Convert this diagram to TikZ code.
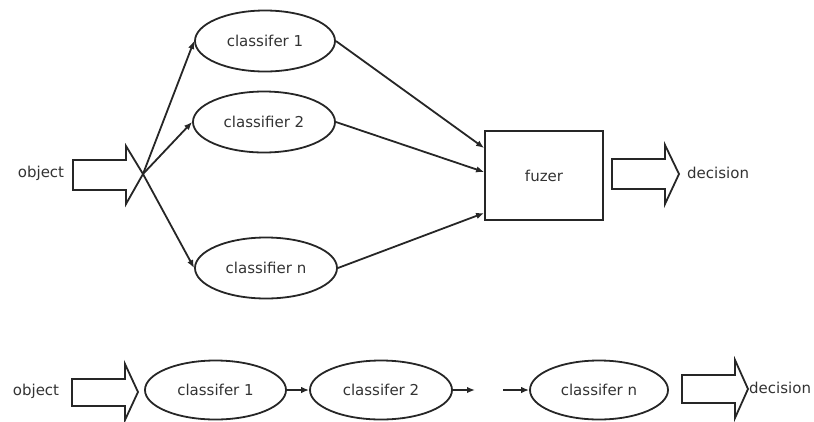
\documentclass[tikz,border=0pt]{standalone}
\usepackage{fontspec}
\setmainfont{DejaVu Sans}
\usetikzlibrary{shapes.geometric,arrows.meta}
\tikzset{
  line/.style={line width=1.8pt, draw=black!85},
  clf/.style={ellipse, line, minimum height=61pt, inner sep=0pt},
  lbl/.style={text=black!80, font=\fontsize{15}{17}\selectfont, inner sep=0pt},
  conn/.style={line, -{Latex[length=8pt,width=6.5pt]}},
  blockarrow/.style={line, fill=white, line join=miter},
}
\begin{document}
\begin{tikzpicture}[x=1pt,y=-1pt]
\useasboundingbox (0,0) rectangle (814,421);
% ---- top diagram ----
\node[lbl] (obj1) at (41,173) {object};
\draw[blockarrow] (73,160) -- (126,160) -- (126,146) -- (143,174) -- (126,204) -- (126,190) -- (73,190) -- cycle;
\coordinate (fan) at (143,174);
\node[clf, minimum width=140pt, lbl, line] (c1) at (265,41) {classifer 1};
\node[clf, minimum width=142pt, lbl, line] (c2) at (264,122) {classifier 2};
\node[clf, minimum width=142pt, lbl, line] (cn) at (266,268) {classifier n};
\node[line, lbl, minimum width=118pt, minimum height=89pt] (fz) at (544,175.5) {fuzer};
\draw[conn] (fan) -- (c1.west);
\draw[conn] (fan) -- (c2.west);
\draw[conn] (fan) -- (cn.west);
\draw[conn] (c1.east) -- (fz.west |- 0,148);
\draw[conn] (c2.east) -- (fz.west |- 0,172);
\draw[conn] (cn.east) -- (fz.west |- 0,213);
\draw[blockarrow] (612,159) -- (665,159) -- (665,145) -- (679,174) -- (665,204) -- (665,189) -- (612,189) -- cycle;
\node[lbl, anchor=west] (dec1) at (687,173) {decision};
% ---- bottom diagram ----
\node[lbl] (obj2) at (36,391) {object};
\draw[blockarrow] (72,379) -- (125,379) -- (125,364) -- (138,392) -- (125,420) -- (125,406) -- (72,406) -- cycle;
\node[clf, minimum width=141pt, minimum height=59pt, lbl, line] (b1) at (215.5,390) {classifer 1};
\node[clf, minimum width=142pt, minimum height=59pt, lbl, line] (b2) at (381,390) {classifer 2};
\node[clf, minimum width=138pt, minimum height=59pt, lbl, line] (bn) at (599,390) {classifer n};
\coordinate (gap1) at (475,390);
\coordinate (gap2) at (503,390);
\draw[conn] (b1) -- (b2);
\draw[conn] (b2.east) -- (gap1);
\draw[conn] (gap2) -- (bn.west);
\draw[blockarrow] (682,375) -- (735,375) -- (735,360) -- (748,389) -- (735,418) -- (735,403) -- (682,403) -- cycle;
\node[lbl, anchor=west] (dec2) at (749,388) {decision};
\end{tikzpicture}
\end{document}
